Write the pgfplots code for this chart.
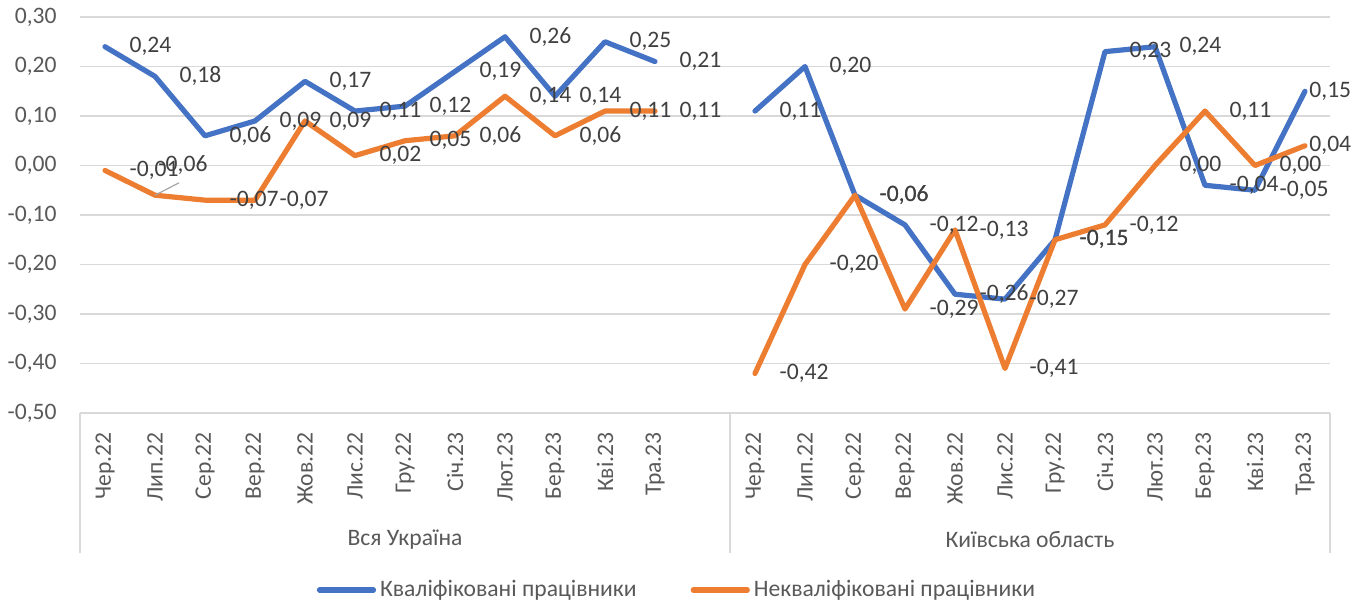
\documentclass[border=0pt]{standalone}
\usepackage{pgfplots}
\pgfplotsset{compat=1.18}
\usepackage{pgfplotstable}
\usepackage{fontspec}
\setmainfont{Carlito}
\definecolor{cblue}{HTML}{4472C4}
\definecolor{corange}{HTML}{ED7D31}
\definecolor{gridc}{HTML}{D9D9D9}
\definecolor{txt}{HTML}{595959}
\definecolor{lbl}{HTML}{404040}

% Вся Україна: кваліфіковані
\pgfplotstableread{
x y lab
0 0.24 0,24
1 0.18 0,18
2 0.06 0,06
3 0.09 0,09
4 0.17 0,17
5 0.11 0,11
6 0.12 0,12
7 0.19 0,19
8 0.26 0,26
9 0.14 0,14
10 0.25 0,25
11 0.21 0,21
}\uaQ
% Вся Україна: некваліфіковані
\pgfplotstableread{
x y lab
0 -0.01 -0,01
1 -0.06 {}
2 -0.07 -0,07
3 -0.07 -0,07
4 0.09 0,09
5 0.02 0,02
6 0.05 0,05
7 0.06 0,06
8 0.14 0,14
9 0.06 0,06
10 0.11 0,11
11 0.11 0,11
}\uaU
% Київська область: кваліфіковані
\pgfplotstableread{
x y lab
13 0.11 0,11
14 0.20 0,20
15 -0.06 -0,06
16 -0.12 -0,12
17 -0.26 -0,26
18 -0.27 -0,27
19 -0.15 -0,15
20 0.23 0,23
21 0.24 0,24
22 -0.04 -0,04
23 -0.05 -0,05
24 0.15 {}
}\kyQ
% Київська область: некваліфіковані
\pgfplotstableread{
x y lab
13 -0.42 -0,42
14 -0.20 -0,20
15 -0.06 -0,06
16 -0.29 -0,29
17 -0.13 -0,13
18 -0.41 -0,41
19 -0.15 -0,15
20 -0.12 -0,12
21 0.00 0,00
22 0.11 0,11
23 0.00 0,00
24 0.04 {}
}\kyU

\begin{document}
\begin{tikzpicture}
\path[use as bounding box] (-40pt,-93.5pt) rectangle (643.5pt,206.5pt);
\begin{axis}[
  at={(0,0)}, anchor=south west,
  scale only axis, width=625pt, height=198pt,
  xmin=-0.5, xmax=24.5, ymin=-0.5, ymax=0.3,
  clip=false,
  axis line style={draw=none},
  tick style={draw=none},
  ymajorgrids, grid style={gridc, line width=0.75pt},
  ytick={-0.5,-0.4,-0.3,-0.2,-0.1,0,0.1,0.2,0.3},
  yticklabels={{-0,50},{-0,40},{-0,30},{-0,20},{-0,10},{0,00},{0,10},{0,20},{0,30}},
  xtick={0,1,2,3,4,5,6,7,8,9,10,11,13,14,15,16,17,18,19,20,21,22,23,24},
  xticklabels={Чер.22,Лип.22,Сер.22,Вер.22,Жов.22,Лис.22,Гру.22,Січ.23,Лют.23,Бер.23,Кві.23,Тра.23,
               Чер.22,Лип.22,Сер.22,Вер.22,Жов.22,Лис.22,Гру.22,Січ.23,Лют.23,Бер.23,Кві.23,Тра.23},
  ticklabel style={font=\fontsize{11.8}{14}\selectfont, text=txt},
  xticklabel style={rotate=90, anchor=east, inner sep=0pt},
  xticklabel shift=9.5pt,
  yticklabel style={anchor=east, inner sep=0pt},
  yticklabel shift=11.5pt,
  legend columns=2,
  legend style={draw=none, fill=none, font=\fontsize{11.8}{14}\selectfont, text=txt,
    at={(rel axis cs:0.4784,-0.447)}, anchor=center,
    /tikz/every even column/.append style={column sep=25pt}},
  legend image code/.code={\draw[#1, line cap=round] (0pt,0pt) -- (27pt,0pt);},
  every axis plot/.append style={line width=2.6pt, line join=round, line cap=round, mark=none},
]
\addplot[cblue] table[x=x,y=y]{\uaQ};
\addplot[cblue, forget plot] table[x=x,y=y]{\kyQ};
\addplot[corange] table[x=x,y=y]{\uaU};
\addplot[corange, forget plot] table[x=x,y=y]{\kyU};
\legend{Кваліфіковані працівники, Некваліфіковані працівники}

\pgfplotsset{labelplot/.style={draw=none, forget plot, point meta=explicit symbolic,
  nodes near coords,
  every node near coord/.append style={anchor=west, inner sep=0pt, xshift=11pt,
     font=\fontsize{11.8}{14}\selectfont, text=lbl}}}
\addplot[labelplot] table[x=x,y=y,meta=lab]{\uaQ};
\addplot[labelplot] table[x=x,y=y,meta=lab]{\kyQ};
\addplot[labelplot] table[x=x,y=y,meta=lab]{\uaU};
\addplot[labelplot] table[x=x,y=y,meta=lab]{\kyU};

% moved labels
\draw[gray!70, line width=0.6pt] (axis cs:1,-0.06) -- (axis cs:1.48,-0.035);
\node[font=\fontsize{11.8}{14}\selectfont, text=lbl, inner sep=0pt] at (axis cs:1.56,0.001) {-0,06};
\node[font=\fontsize{11.8}{14}\selectfont, text=lbl, inner sep=0pt, anchor=west, xshift=2pt] at (axis cs:24,0.15) {0,15};
\node[font=\fontsize{11.8}{14}\selectfont, text=lbl, inner sep=0pt, anchor=west, xshift=2pt] at (axis cs:24,0.04) {0,04};

% category group separators and names
\draw[gridc, line width=0.75pt] (axis cs:-0.5,-0.5) -- ++(0pt,-70pt);
\draw[gridc, line width=0.75pt] (axis cs:12.5,-0.5) -- ++(0pt,-70pt);
\draw[gridc, line width=0.75pt] (axis cs:24.5,-0.5) -- ++(0pt,-70pt);
\node[font=\fontsize{11.8}{14}\selectfont, text=txt] at (axis cs:6,-0.5) [yshift=-63.5pt] {Вся Україна};
\node[font=\fontsize{11.8}{14}\selectfont, text=txt] at (axis cs:18.5,-0.5) [yshift=-63.5pt] {Київська область};
\end{axis}
\end{tikzpicture}
\end{document}
